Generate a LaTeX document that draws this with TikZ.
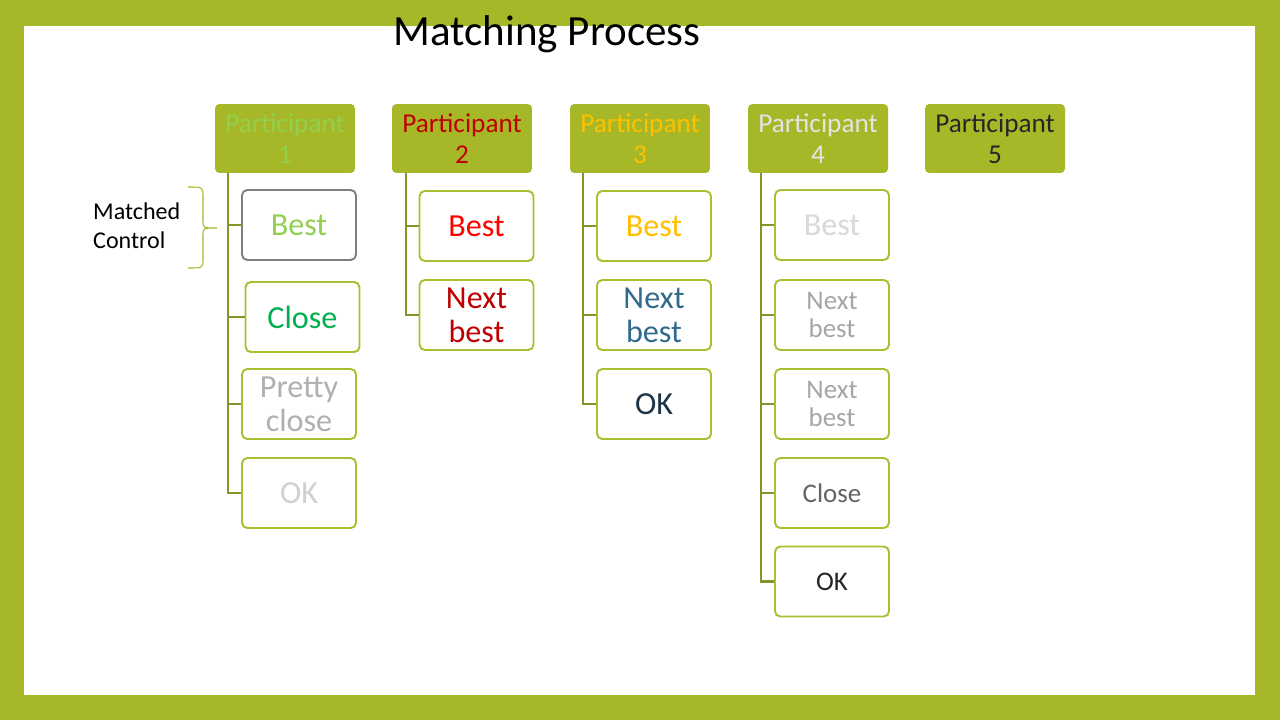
\documentclass[tikz,border=0pt]{standalone}
\usepackage{fontspec}
\setmainfont{Carlito}
\usepackage{tikz}

\definecolor{slideGreen}{RGB}{166,184,40}
\definecolor{boxGreen}{RGB}{170,190,50}
\definecolor{lineGreen}{RGB}{132,148,40}

\tikzset{
  head/.style={fill=slideGreen, rounded corners=2.5pt, minimum width=2.8cm, minimum height=1.38cm,
    align=center, inner sep=0pt, font=\fontsize{15.5}{17.6}\selectfont},
  box/.style={draw=boxGreen, line width=1.1pt, fill=white, rounded corners=3pt, minimum width=2.28cm,
    minimum height=1.4cm, align=center, inner sep=0pt, font=\fontsize{18.3}{19.3}\selectfont},
  small/.style={font=\fontsize{15.3}{16.2}\selectfont},
  link/.style={draw=lineGreen, line width=1.2pt},
}

\begin{document}
\begin{tikzpicture}[x=0.02cm, y=-0.02cm]
        % Slide frame
        \fill[slideGreen] (0,0) rectangle (1280,720);
        \fill[white] (24,26) rectangle (1255,695);
        \node (title) at (547,34) {\fontsize{24.5}{28}\selectfont Matching Process};

        % Participants
        \node[head, text={rgb,255:red,146;green,208;blue,80}] (p1) at (285,138.5) {Participant\\1};
        \node[head, text={rgb,255:red,192;green,0;blue,0}] (p2) at (462,138.5) {Participant\\2};
        \node[head, text={rgb,255:red,255;green,192;blue,0}] (p3) at (640,138.5) {Participant\\3};
        \node[head, text={rgb,255:red,228;green,228;blue,228}] (p4) at (818,138.5) {Participant\\4};
        \node[head, text={rgb,255:red,38;green,38;blue,38}] (p5) at (995,138.5) {Participant\\5};

        % Participant 1
        \node[box, draw={rgb,255:red,128;green,128;blue,128}, text={rgb,255:red,146;green,208;blue,80}] (p1a) at (299,225) {Best};
        \node[box, text={rgb,255:red,0;green,176;blue,80}] (p1b) at (302.5,317) {Close};
        \node[box, text={rgb,255:red,176;green,176;blue,176}] (p1c) at (299,404) {Pretty\\close};
        \node[box, text={rgb,255:red,208;green,208;blue,208}] (p1d) at (299,493) {OK};

        % Participant 2
        \node[box, text={rgb,255:red,255;green,0;blue,0}] (p2a) at (476.5,226) {Best};
        \node[box, text={rgb,255:red,192;green,0;blue,0}] (p2b) at (476.5,315) {Next\\best};

        % Participant 3
        \node[box, text={rgb,255:red,255;green,192;blue,0}] (p3a) at (654,226) {Best};
        \node[box, text={rgb,255:red,49;green,107;blue,140}] (p3b) at (654,315) {Next\\best};
        \node[box, text={rgb,255:red,28;green,52;blue,72}] (p3c) at (654,404) {OK};

        % Participant 4
        \node[box, text={rgb,255:red,217;green,217;blue,217}] (p4a) at (832,225) {Best};
        \node[box, small, text={rgb,255:red,166;green,166;blue,166}] (p4b) at (832,315) {Next\\best};
        \node[box, small, text={rgb,255:red,166;green,166;blue,166}] (p4c) at (832,404) {Next\\best};
        \node[box, small, text={rgb,255:red,100;green,100;blue,100}] (p4d) at (832,493) {Close};
        \node[box, small, text={rgb,255:red,38;green,38;blue,38}] (p4e) at (832,581.5) {OK};

        % Tree lines
        \foreach \b in {p1a,p1b,p1c,p1d}
            \draw[link] (p1.south west) ++(13,0) |- (\b.west);
        \foreach \b in {p2a,p2b}
            \draw[link] (p2.south west) ++(14,0) |- (\b.west);
        \foreach \b in {p3a,p3b,p3c}
            \draw[link] (p3.south west) ++(13,0) |- (\b.west);
        \foreach \b in {p4a,p4b,p4c,p4d,p4e}
            \draw[link] (p4.south west) ++(13,0) |- (\b.west);

        % Matched control brace
        \node[anchor=west, align=left, font=\fontsize{13.7}{16.5}\selectfont] (ctrl) at (87,226) {Matched\\Control};
        \draw[slideGreen, line width=0.6pt] (188,187) .. controls (203,187) .. (203,197) -- (203,220)
            .. controls (203,228) .. (217,228) .. controls (203,228) .. (203,236) -- (203,259)
            .. controls (203,268) .. (188,268);
    \end{tikzpicture}
\end{document}
